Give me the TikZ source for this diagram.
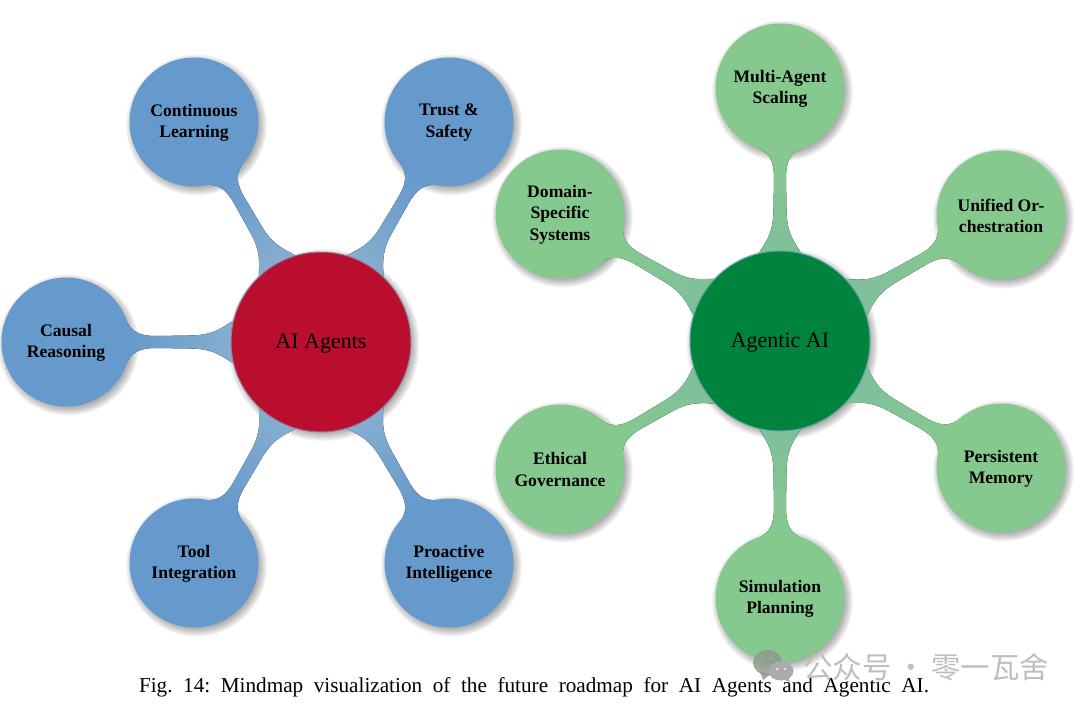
\documentclass[tikz,border=0pt]{standalone}
\usepackage{fontspec}
\setmainfont{Liberation Serif}
\newfontfamily\cjkfont{Noto Sans CJK SC}
\usetikzlibrary{calc}
\definecolor{blueleaf}{HTML}{6699CC}
\definecolor{bluejoin}{HTML}{86AECF}
\definecolor{greenleaf}{HTML}{85C98F}
\definecolor{greenjoin}{HTML}{7FBF9B}
\definecolor{redhub}{HTML}{B90E2E}
\definecolor{greenhub}{HTML}{00843D}
\definecolor{wmgrey}{HTML}{BEBEBE}
\definecolor{wmicon}{HTML}{8E9A8E}
\definecolor{wmicontwo}{HTML}{ABABAB}
\pgfdeclarelayer{under}
\pgfsetlayers{under,main}
\tikzset{
  leaf/.style={circle,inner sep=0pt,minimum size=129pt},
  leaftext/.style={inner sep=0pt,align=center,yshift=-0.7pt,
    font=\fontsize{17.6}{21.5}\selectfont\bfseries},
  hub/.style={circle,inner sep=0pt,minimum size=180pt},
  hubtext/.style={inner sep=0pt,yshift=-2pt,font=\fontsize{22}{25}\selectfont},
}
\newcommand{\softshadow}[2]{% centre, radius
  \begin{pgfonlayer}{under}
    \foreach \dr in {6,5,4,3,2,1,0,-1,-2,-3}{
      \fill[black,opacity=0.04] ($(#1)+(2.5,3)$) circle[radius=#2+\dr];
    }
  \end{pgfonlayer}
}
\newcommand{\leafnode}[4]{% name, pos, colour, text
  \node[leaf,fill=#3,label={[leaftext]center:{#4}}] (#1) at (#2) {};
  \softshadow{#2}{64.5}
}
\newcommand{\hubnode}[4]{% name, pos, colour, text
  \node[hub,fill=#3,draw=#3!30!bluejoin,line width=1pt,label={[hubtext]center:{#4}}] (#1) at (#2) {};
  \softshadow{#2}{90}
}
% organic bridge from hub #1 to leaf #2; #3 leaf colour, #4 hub-end colour
\newcommand{\bridge}[4]{%
  \pgfmathanglebetweenpoints{\pgfpointanchor{#1}{center}}{\pgfpointanchor{#2}{center}}%
  \let\bangle\pgfmathresult
  \pgfmathsetmacro{\shang}{\bangle-90}%
  \begin{pgfonlayer}{under}
  \fill[top color=#3,bottom color=#4,shading angle=\shang]
    ($(#1)!88pt!15:(#2)$)
    .. controls ($($(#1)!99pt!(#2)$)!15pt!90:(#2)$) and ($($(#1)!106pt!(#2)$)!6.5pt!90:(#2)$)
    .. ($($(#1)!132pt!(#2)$)!6.5pt!90:(#2)$)
    -- ($($(#2)!90pt!(#1)$)!6pt!-90:(#1)$)
    .. controls ($($(#2)!74pt!(#1)$)!6pt!-90:(#1)$) and ($($(#2)!66pt!(#1)$)!10pt!-90:(#1)$)
    .. ($(#2)!64pt!-19:(#1)$)
    -- ($(#2)!64pt!19:(#1)$)
    .. controls ($($(#2)!66pt!(#1)$)!10pt!90:(#1)$) and ($($(#2)!74pt!(#1)$)!6pt!90:(#1)$)
    .. ($($(#2)!90pt!(#1)$)!6pt!90:(#1)$)
    -- ($($(#1)!132pt!(#2)$)!6.5pt!-90:(#2)$)
    .. controls ($($(#1)!106pt!(#2)$)!6.5pt!-90:(#2)$) and ($($(#1)!99pt!(#2)$)!15pt!-90:(#2)$)
    .. ($(#1)!88pt!-15:(#2)$)
    -- cycle;
  \end{pgfonlayer}
}
\begin{document}
\begin{tikzpicture}[x=1pt,y=-1pt]
\useasboundingbox (0,0) rectangle (1080,710);
% AI Agents
\hubnode{agents}{321,342}{redhub}{AI Agents}
\leafnode{cont}{194,122}{blueleaf}{Continuous\\Learning}
\leafnode{trust}{449,122}{blueleaf}{Trust \&\\Safety}
\leafnode{causal}{66,342}{blueleaf}{Causal\\Reasoning}
\leafnode{tool}{194,563}{blueleaf}{Tool\\Integration}
\leafnode{proact}{449,563}{blueleaf}{Proactive\\Intelligence}
% Agentic AI
\hubnode{agentic}{780,341}{greenhub}{Agentic AI}
\leafnode{multi}{780,88}{greenleaf}{Multi-Agent\\Scaling}
\leafnode{unified}{1001,215}{greenleaf}{Unified Or-\\chestration}
\leafnode{persist}{1001,468}{greenleaf}{Persistent\\Memory}
\leafnode{sim}{780,598}{greenleaf}{Simulation\\Planning}
\leafnode{ethic}{560,469}{greenleaf}{Ethical\\Governance}
\leafnode{domain}{560,214}{greenleaf}{Domain-\\Specific\\Systems}
% bridges
\foreach \l in {cont,trust,causal,tool,proact}{\bridge{agents}{\l}{blueleaf}{bluejoin}}
\foreach \l in {multi,unified,persist,sim,ethic,domain}{\bridge{agentic}{\l}{greenleaf}{greenjoin}}
% caption
\node[inner sep=0pt,font=\fontsize{21.2}{24}\selectfont] (caption) at (534,687)
  {\frenchspacing\makebox[790pt][s]{Fig. 14: Mindmap visualization of the future roadmap for AI Agents and Agentic AI.}};
% watermark
\fill[wmicon,opacity=0.85] (767.5,662.5) ellipse[x radius=14.5,y radius=12.5];
\fill[wmicon,opacity=0.85] (760,672) -- (763,680) -- (771,674) -- cycle;
\fill[wmicontwo] (781,671) ellipse[x radius=12.5,y radius=9.5];
\fill[wmicontwo] (782,679) -- (790,682) -- (788,677) -- cycle;
\foreach \ex/\ey in {762/658,772/658}{\fill[greenleaf!60!wmicon] (\ex,\ey) circle[radius=1.6];}
\foreach \ex/\ey in {777/669,785/669}{\fill[white!80!wmicontwo] (\ex,\ey) circle[radius=1.4];}
\node[inner sep=0pt,text=wmgrey,anchor=west,font=\fontsize{29.5}{33}\cjkfont] (mark) at (803,667) {公众号\,·\,零一瓦舍};
\end{tikzpicture}
\end{document}
